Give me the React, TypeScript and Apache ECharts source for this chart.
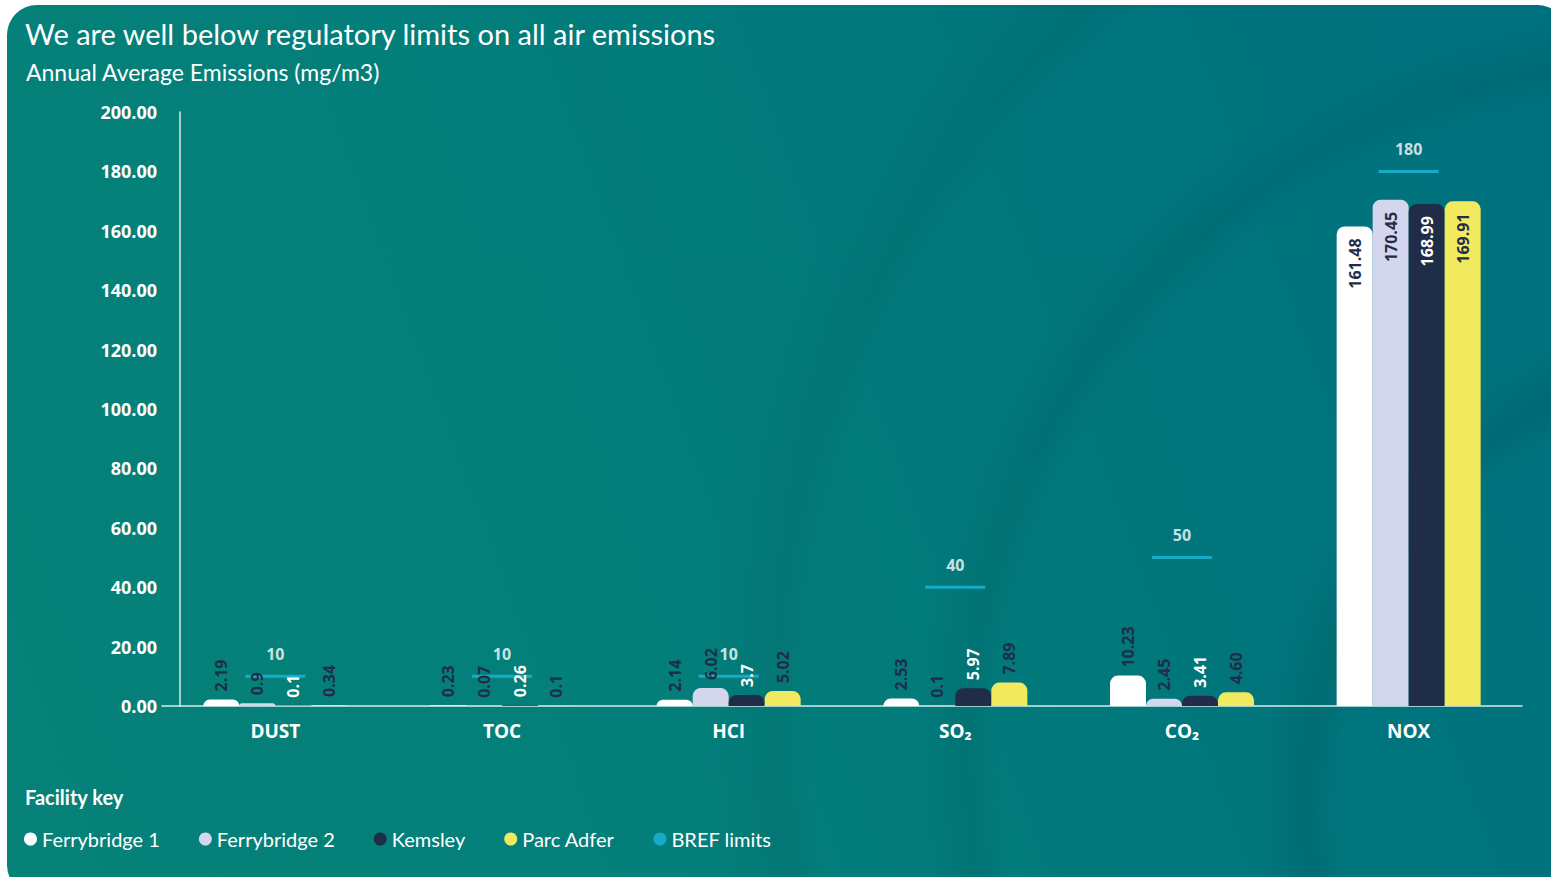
import React, { useEffect, useRef } from "react";
import * as echarts from "echarts";

// Pollutants along the x axis
const categories = ["DUST", "TOC", "HCI", "SO₂", "CO₂", "NOX"];

// Annual average emissions per facility (mg/m3), kept as printed
const ferrybridge1 = ["2.19", "0.23", "2.14", "2.53", "10.23", "161.48"];
const ferrybridge2 = ["0.9", "0.07", "6.02", "0.1", "2.45", "170.45"];
const kemsley = ["0.1", "0.26", "3.7", "5.97", "3.41", "168.99"];
const parcAdfer = ["0.34", "0.1", "5.02", "7.89", "4.60", "169.91"];

// BREF regulatory limits per pollutant
const brefLimits = [10, 10, 10, 40, 50, 180];

const TEXT_FONT = "Lato, 'Open Sans', sans-serif";
const NUM_FONT = "'Open Sans', Lato, sans-serif";
const NAVY = "#1f2d48";

function barSeries(name: string, values: string[], color: string, labelColor: string) {
  return {
    type: "bar",
    name,
    barWidth: 36,
    barGap: "0%",
    z: 2,
    itemStyle: { color, borderRadius: [8, 8, 0, 0] },
    label: {
      show: true,
      rotate: 90,
      position: "top",
      align: "left",
      verticalAlign: "middle",
      distance: 8,
      color: labelColor,
      fontSize: 16,
      fontWeight: "bold",
      fontFamily: NUM_FONT,
      formatter: (p: any) => values[p.dataIndex],
    },
    data: values.map((v) => {
      const n = Number(v);
      return n > 100
        ? { value: n, label: { position: "insideTop", align: "right", distance: 12 } }
        : { value: n };
    }),
  };
}

export default function App() {
  const ref = useRef<HTMLDivElement>(null);

  useEffect(() => {
    if (!ref.current) return;
    const chart = echarts.init(ref.current, null, { renderer: "svg" });
    chart.setOption({
      animation: false,
      backgroundColor: "transparent",
      title: [
        {
          text: "We are well below regulatory limits on all air emissions",
          left: 20,
          top: 14,
          textStyle: { color: "#ffffff", fontSize: 29, fontWeight: "normal", fontFamily: TEXT_FONT },
        },
        {
          text: "Annual Average Emissions (mg/m3)",
          left: 21,
          top: 55,
          textStyle: { color: "#ffffff", fontSize: 23, fontWeight: "normal", fontFamily: TEXT_FONT },
        },
        {
          text: "Facility key",
          left: 20,
          top: 782,
          textStyle: { color: "#ffffff", fontSize: 20, fontWeight: "bold", fontFamily: TEXT_FONT },
        },
      ],
      legend: {
        left: 19,
        top: 824,
        icon: "circle",
        itemWidth: 13,
        itemHeight: 13,
        itemGap: 39,
        textStyle: { color: "#ffffff", fontSize: 20, fontFamily: TEXT_FONT },
        data: ["Ferrybridge 1", "Ferrybridge 2", "Kemsley", "Parc Adfer", "BREF limits"],
      },
      grid: { left: 162, right: 29, top: 112, bottom: 171, containLabel: false },
      xAxis: {
        type: "category",
        data: categories,
        axisLine: { show: true, lineStyle: { color: "rgba(255,255,255,0.85)", width: 1.5 } },
        axisTick: { show: false },
        axisLabel: {
          color: "#ffffff",
          fontSize: 19,
          fontWeight: "bold",
          fontFamily: NUM_FONT,
          margin: 15,
        },
      },
      yAxis: {
        type: "value",
        min: 0,
        max: 200,
        interval: 20,
        offset: -18,
        axisLine: { show: true, lineStyle: { color: "rgba(255,255,255,0.85)", width: 1.5 } },
        axisTick: { show: false },
        splitLine: { show: false },
        axisLabel: {
          color: "#ffffff",
          fontSize: 18,
          fontWeight: "bold",
          fontFamily: NUM_FONT,
          margin: 23,
          formatter: (v: number) => v.toFixed(2),
        },
      },
      series: [
        barSeries("Ferrybridge 1", ferrybridge1, "#ffffff", NAVY),
        barSeries("Ferrybridge 2", ferrybridge2, "#d3d6ec", NAVY),
        barSeries("Kemsley", kemsley, "#1f2d48", "#ffffff"),
        barSeries("Parc Adfer", parcAdfer, "#f2ea5e", NAVY),
        {
          type: "scatter",
          name: "BREF limits",
          symbol: "rect",
          symbolSize: [60, 3],
          itemStyle: { color: "#1cb8da" },
          z: 1,
          label: {
            show: true,
            position: "top",
            distance: 13,
            color: "#ffffff",
            fontSize: 16,
            fontWeight: "bold",
            fontFamily: NUM_FONT,
          },
          data: brefLimits,
        },
      ],
    });
    return () => chart.dispose();
  }, []);

  return (
    <div style={{ position: "fixed", left: 0, top: 0, width: 1551, height: 877, background: "#ffffff", overflow: "hidden" }}>
      <div
        style={{
          position: "absolute",
          left: 7,
          top: 5,
          width: 1560,
          height: 890,
          borderRadius: 30,
          background:
            "radial-gradient(circle at 1700px 700px, rgba(0,50,60,0) 900px, rgba(0,50,60,0.08) 930px, rgba(0,50,60,0) 1000px)," +
            "radial-gradient(circle at 1650px 750px, rgba(0,50,60,0) 660px, rgba(0,50,60,0.10) 690px, rgba(0,50,60,0) 740px)," +
            "radial-gradient(circle at 1750px 800px, rgba(0,50,60,0) 420px, rgba(0,45,55,0.12) 450px, rgba(0,50,60,0) 500px)," +
            "linear-gradient(70deg, #068279 0%, #037e7a 40%, #00767c 70%, #00707e 100%)",
        }}
      />
      <div ref={ref} style={{ position: "absolute", left: 0, top: 0, width: 1551, height: 877 }} />
    </div>
  );
}
